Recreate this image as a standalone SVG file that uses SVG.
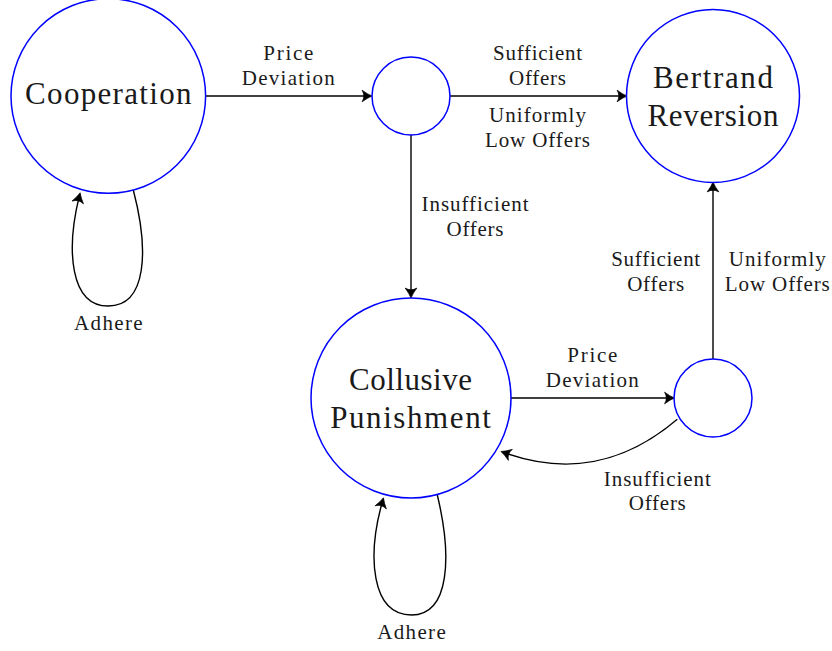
<svg xmlns="http://www.w3.org/2000/svg" width="832" height="651" viewBox="0 0 832 651">
<style>
.node{fill:none;stroke:#0000ff;stroke-width:1.5}
.edge{fill:none;stroke:#000;stroke-width:1.4}
.big{font-family:"Liberation Serif","Times New Roman",serif;font-size:31px;fill:#1a1a1a;text-anchor:middle}
.lbl{font-family:"Liberation Serif","Times New Roman",serif;font-size:21px;fill:#1a1a1a;text-anchor:middle}
</style>
<defs>
<marker id="arr" markerUnits="userSpaceOnUse" markerWidth="14" markerHeight="14" viewBox="-10 -6 12 12" refX="-3" refY="0" orient="auto">
<path d="M0,0 Q-4,-1.6 -8.5,-5 Q-5.5,0 -8.5,5 Q-4,1.6 0,0 Z" fill="#000" stroke="#000" stroke-width="0.6" stroke-linejoin="round"/>
</marker>
</defs>
<g id="connectors">
<path class="edge" d="M205.5,96 L368.5,96" marker-end="url(#arr)"/>
<path class="edge" d="M450,96 L623.5,96" marker-end="url(#arr)"/>
<path class="edge" d="M411,135 L411,294.5" marker-end="url(#arr)"/>
<path class="edge" d="M511,398 L671,398" marker-end="url(#arr)"/>
<path class="edge" d="M713,359 L713,185.5" marker-end="url(#arr)"/>
<path class="edge" d="M677.3,419.3 C624,464.7 567.4,475.2 504.3,452.7" marker-end="url(#arr)"/>
<path class="edge" d="M133.3,190 C149,250 147,306 108.3,306 C70,306 66,250 79.3,196.2" marker-end="url(#arr)"/>
<path class="edge" d="M437.3,495 C452,556 450,615 411.5,615 C371,615 367,556 382.5,501.2" marker-end="url(#arr)"/>
</g>
<g id="edge-labels">
<text class="lbl" x="288.3" y="60" textLength="50">Price</text>
<text class="lbl" x="288.3" y="85" textLength="93">Deviation</text>
<text class="lbl" x="537.5" y="60" textLength="89">Sufficient</text>
<text class="lbl" x="537.5" y="85" textLength="57">Offers</text>
<text class="lbl" x="537.5" y="122" textLength="97">Uniformly</text>
<text class="lbl" x="537.5" y="146.5" textLength="105">Low Offers</text>
<text class="lbl" x="475" y="210.5" textLength="107">Insufficient</text>
<text class="lbl" x="475" y="235.5" textLength="57">Offers</text>
<text class="lbl" x="655.7" y="265.5" textLength="89">Sufficient</text>
<text class="lbl" x="655.7" y="290.5" textLength="57">Offers</text>
<text class="lbl" x="777.3" y="265.5" textLength="97">Uniformly</text>
<text class="lbl" x="777.3" y="290.5" textLength="105">Low Offers</text>
<text class="lbl" x="108.3" y="330" textLength="68.5">Adhere</text>
<text class="lbl" x="592.3" y="361.7" textLength="50">Price</text>
<text class="lbl" x="592.3" y="386.7" textLength="93">Deviation</text>
<text class="lbl" x="657.3" y="486" textLength="107">Insufficient</text>
<text class="lbl" x="657.3" y="510" textLength="57">Offers</text>
<text class="lbl" x="411.5" y="639.3" textLength="68.5">Adhere</text>
</g>
<g id="cooperation">
<circle class="node" cx="108.3" cy="96" r="97.3"/>
<text class="big" x="108.3" y="103.5" textLength="166.5">Cooperation</text>
</g>
<g id="choice1">
<circle class="node" cx="411" cy="96" r="39"/>
</g>
<g id="bertrand">
<circle class="node" cx="713" cy="96" r="86.5"/>
<text class="big" x="713" y="88" textLength="120">Bertrand</text>
<text class="big" x="713" y="126" textLength="131">Reversion</text>
</g>
<g id="collusive">
<circle class="node" cx="411" cy="398" r="100"/>
<text class="big" x="410.5" y="390" textLength="123">Collusive</text>
<text class="big" x="410.5" y="428.3" textLength="160.7">Punishment</text>
</g>
<g id="choice2">
<circle class="node" cx="713" cy="398" r="39"/>
</g>
</svg>
